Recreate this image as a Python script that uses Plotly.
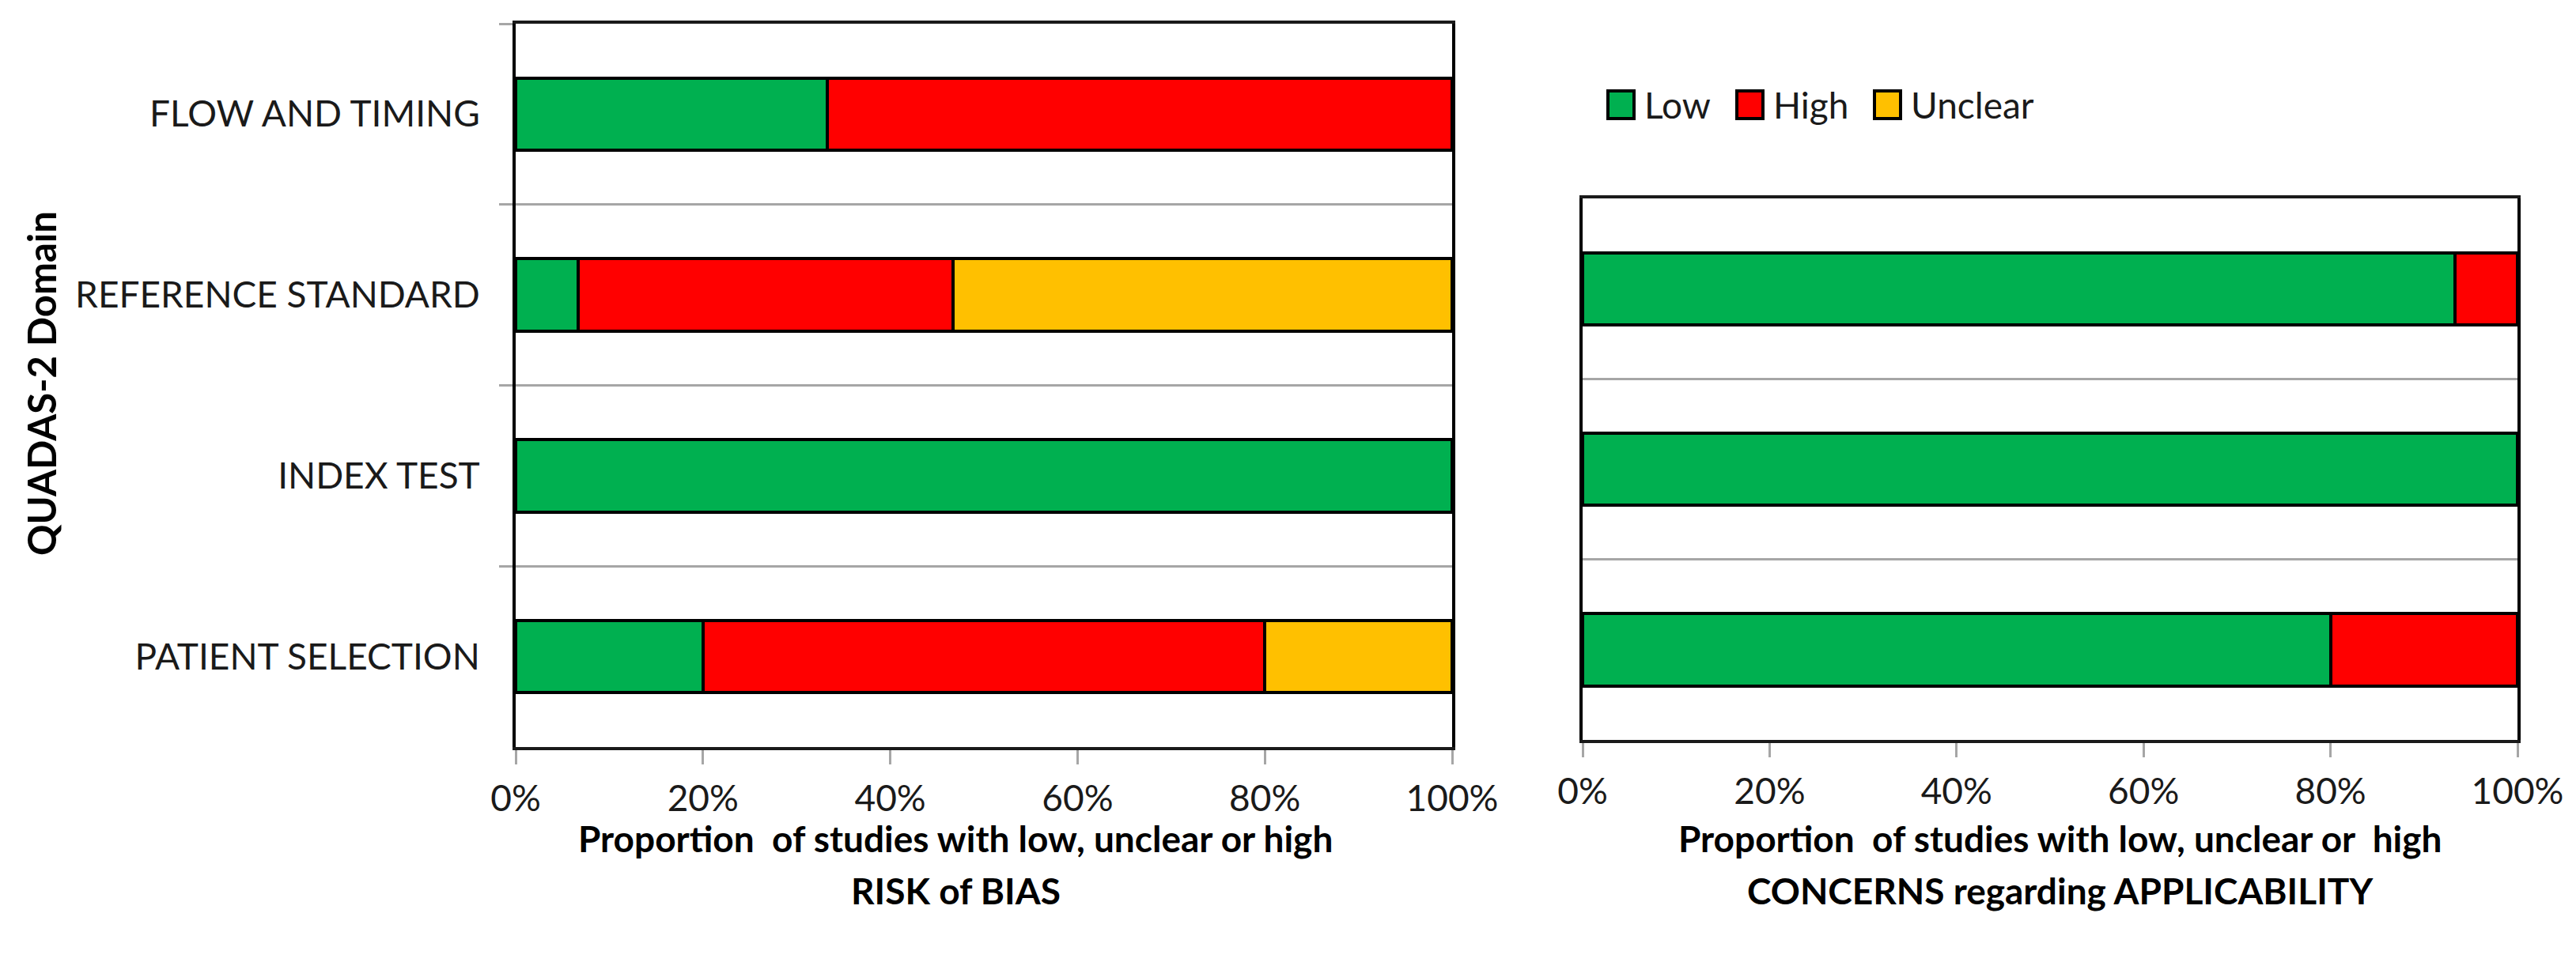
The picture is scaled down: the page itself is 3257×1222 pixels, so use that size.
import plotly.graph_objects as go

# QUADAS-2 summary: share of studies (%) per domain
bias_domains = ["FLOW AND TIMING", "REFERENCE STANDARD", "INDEX TEST", "PATIENT SELECTION"]
bias_low = [33.3, 6.7, 100.0, 20.0]
bias_high = [66.7, 40.0, 0.0, 60.0]
bias_unclear = [0.0, 53.3, 0.0, 20.0]

app_domains = ["REFERENCE STANDARD", "INDEX TEST", "PATIENT SELECTION"]
app_low = [93.3, 100.0, 80.0]
app_high = [6.7, 0.0, 20.0]
app_unclear = [0.0, 0.0, 0.0]

series_names = ["Low", "High", "Unclear"]
series_colors = ["#00B050", "#FF0000", "#FFC000"]
x_ticks = [0, 20, 40, 60, 80, 100]
x_ticktext = [f"{t}%" for t in x_ticks]

W, H = 3257, 1222
FONT = "Lato"
GRID = "#A6A6A6"

fig = go.Figure()

bias_vals = [bias_low, bias_high, bias_unclear]
app_vals = [app_low, app_high, app_unclear]
for name, color, bv, av in zip(series_names, series_colors, bias_vals, app_vals):
    fig.add_trace(go.Bar(
        y=bias_domains, x=bv, orientation="h", name=name,
        marker=dict(color=color, line=dict(color="black", width=4)),
        showlegend=False, xaxis="x", yaxis="y",
    ))
    fig.add_trace(go.Bar(
        y=app_domains, x=av, orientation="h", name=name,
        marker=dict(color=color, line=dict(color="black", width=4)),
        showlegend=False, xaxis="x2", yaxis="y2",
    ))


def px_x(v):
    return v / W


def px_y(v):
    return 1 - v / H


xcommon = dict(
    range=[0, 100], tickmode="array", tickvals=x_ticks, ticktext=x_ticktext,
    ticks="outside", ticklen=18, tickwidth=3, tickcolor=GRID,
    showgrid=False, zeroline=False, showline=True, linecolor="#1a1a1a",
    linewidth=4, mirror=True, automargin=False, fixedrange=True,
    tickfont=dict(family=FONT, size=46, color="#1a1a1a"),
    ticklabelstandoff=4,
)
ycommon = dict(
    type="category", autorange="reversed", tickson="boundaries",
    showgrid=True, gridcolor=GRID, gridwidth=3, zeroline=False,
    showline=True, linecolor="black", linewidth=4, mirror=True,
    automargin=False, fixedrange=True,
)

fig.update_layout(
    width=W, height=H,
    template="none",
    paper_bgcolor="white", plot_bgcolor="white",
    margin=dict(l=0, r=0, t=0, b=0),
    barmode="stack", bargap=0.6,
    showlegend=False,
    font=dict(family=FONT, color="black"),
    xaxis=dict(domain=[px_x(644), px_x(1828)], anchor="y", **xcommon),
    yaxis=dict(domain=[px_y(937), px_y(22)], anchor="x",
               categoryorder="array", categoryarray=bias_domains,
               ticks="outside", ticklen=17, tickwidth=3, tickcolor=GRID,
               ticklabelstandoff=32,
               tickfont=dict(family=FONT, size=46, color="#1a1a1a"),
               **ycommon),
    xaxis2=dict(domain=[px_x(1993), px_x(3175)], anchor="y2", **xcommon),
    yaxis2=dict(domain=[px_y(928), px_y(243)], anchor="x2",
                categoryorder="array", categoryarray=app_domains,
                ticks="", showticklabels=False, **ycommon),
)

title_font = dict(family=FONT, size=46, color="black")
annotations = [
    dict(text="<b>QUADAS-2 Domain</b>", textangle=-90,
         x=px_x(44), y=px_y(477), xref="paper", yref="paper",
         xanchor="center", yanchor="middle", showarrow=False,
         font=dict(family=FONT, size=49, color="black")),
]
axis_titles = [
    (1200, "Proportion  of studies with low, unclear or high", "RISK of BIAS"),
    (2597, "Proportion  of studies with low, unclear or  high", "CONCERNS regarding APPLICABILITY"),
]
for cx, line1, line2 in axis_titles:
    for cy, txt in ((1052, line1), (1118, line2)):
        annotations.append(dict(text=f"<b>{txt}</b>", x=px_x(cx), y=px_y(cy),
                                xref="paper", yref="paper", xanchor="center",
                                yanchor="middle", showarrow=False, font=title_font))

# legend keys drawn as layout shapes so they can be as large as the original
shapes = []
key_left = [2025, 2188, 2362]
for name, color, x0 in zip(series_names, series_colors, key_left):
    shapes.append(dict(type="rect", xref="paper", yref="paper",
                       x0=px_x(x0), x1=px_x(x0 + 33), y0=px_y(142), y1=px_y(107),
                       fillcolor=color, line=dict(color="black", width=4)))
    annotations.append(dict(text=name, x=px_x(x0 + 44), y=px_y(124),
                            xref="paper", yref="paper", xanchor="left",
                            yanchor="middle", showarrow=False,
                            font=dict(family=FONT, size=46, color="#1a1a1a")))

fig.update_layout(annotations=annotations, shapes=shapes)

fig.write_html("out.html")
